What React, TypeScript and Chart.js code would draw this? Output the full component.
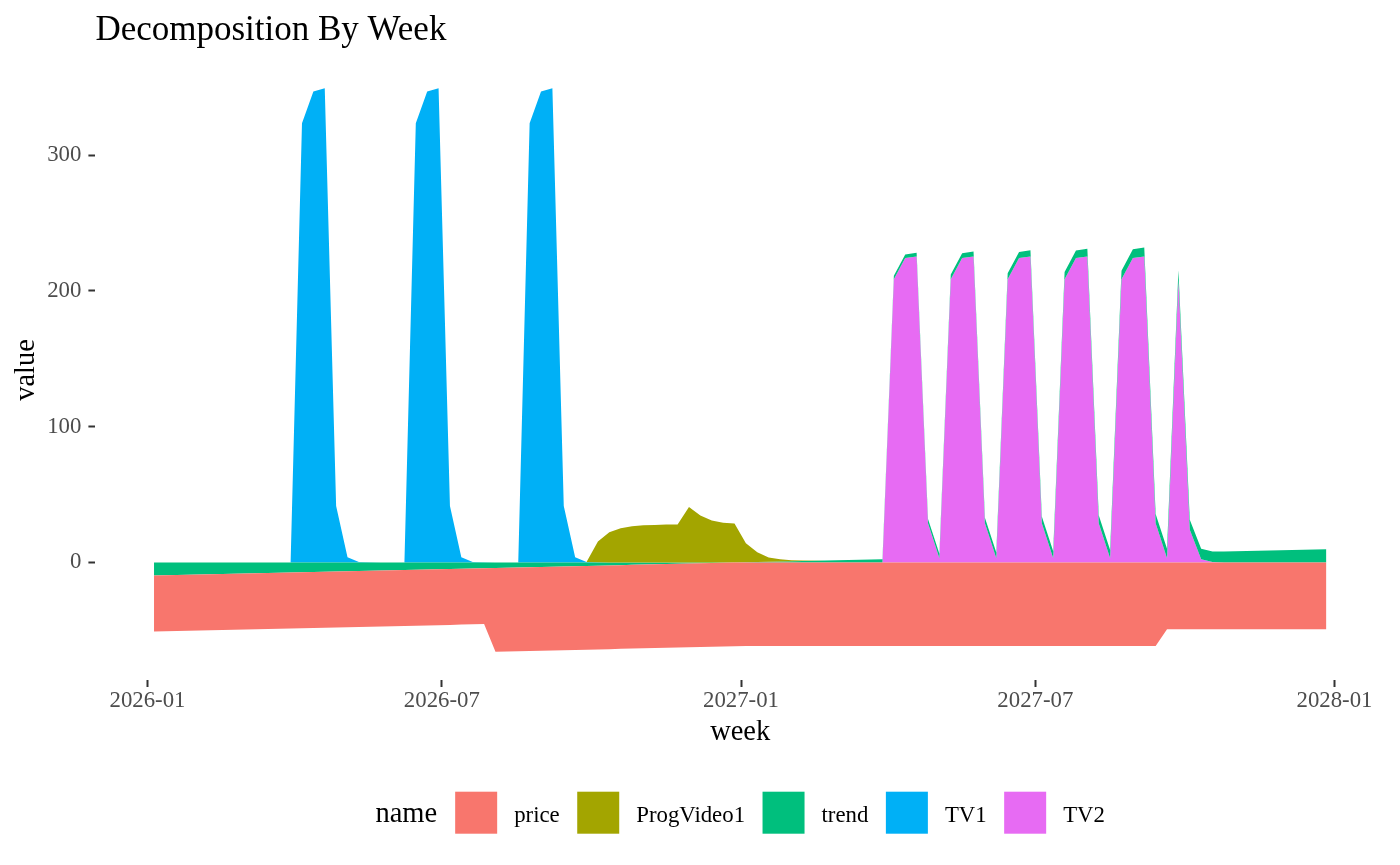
import React, { useEffect, useRef } from "react";
import { Chart, registerables } from "chart.js";

Chart.register(...registerables);

// ---------- data ----------
const weeks = [
  "2026-01-05", "2026-01-12", "2026-01-19", "2026-01-26", "2026-02-02", "2026-02-09", "2026-02-16", "2026-02-23",
  "2026-03-02", "2026-03-09", "2026-03-16", "2026-03-23", "2026-03-30", "2026-04-06", "2026-04-13", "2026-04-20",
  "2026-04-27", "2026-05-04", "2026-05-11", "2026-05-18", "2026-05-25", "2026-06-01", "2026-06-08", "2026-06-15",
  "2026-06-22", "2026-06-29", "2026-07-06", "2026-07-13", "2026-07-20", "2026-07-27", "2026-08-03", "2026-08-10",
  "2026-08-17", "2026-08-24", "2026-08-31", "2026-09-07", "2026-09-14", "2026-09-21", "2026-09-28", "2026-10-05",
  "2026-10-12", "2026-10-19", "2026-10-26", "2026-11-02", "2026-11-09", "2026-11-16", "2026-11-23", "2026-11-30",
  "2026-12-07", "2026-12-14", "2026-12-21", "2026-12-28",
  "2027-01-04", "2027-01-11", "2027-01-18", "2027-01-25", "2027-02-01", "2027-02-08", "2027-02-15", "2027-02-22",
  "2027-03-01", "2027-03-08", "2027-03-15", "2027-03-22", "2027-03-29", "2027-04-05", "2027-04-12", "2027-04-19",
  "2027-04-26", "2027-05-03", "2027-05-10", "2027-05-17", "2027-05-24", "2027-05-31", "2027-06-07", "2027-06-14",
  "2027-06-21", "2027-06-28", "2027-07-05", "2027-07-12", "2027-07-19", "2027-07-26", "2027-08-02", "2027-08-09",
  "2027-08-16", "2027-08-23", "2027-08-30", "2027-09-06", "2027-09-13", "2027-09-20", "2027-09-27", "2027-10-04",
  "2027-10-11", "2027-10-18", "2027-10-25", "2027-11-01", "2027-11-08", "2027-11-15", "2027-11-22", "2027-11-29",
  "2027-12-06", "2027-12-13", "2027-12-20", "2027-12-27",
];

const price = [
  -41.2, -41.2, -41.2, -41.2, -41.2, -41.2, -41.2, -41.2, -41.2, -41.2,
  -41.2, -41.2, -41.2, -41.2, -41.2, -41.2, -41.2, -41.2, -41.2, -41.2,
  -41.2, -41.2, -41.2, -41.2, -41.2, -41.2, -41.2, -41.2, -41.2, -41.2,
  -61.8, -61.8, -61.8, -61.8, -61.8, -61.8, -61.8, -61.8, -61.8, -61.8,
  -61.8, -61.7, -61.7, -61.7, -61.7, -61.7, -61.7, -61.7, -61.7, -61.7,
  -61.6, -61.6, -61.6, -61.6, -61.6, -61.6, -61.6, -61.6, -61.6, -61.6,
  -61.5, -61.5, -61.5, -61.5, -61.5, -61.5, -61.5, -61.5, -61.5, -61.5,
  -61.5, -61.5, -61.5, -61.5, -61.5, -61.5, -61.5, -61.5, -61.5, -61.5,
  -61.5, -61.5, -61.5, -61.5, -61.5, -61.5, -61.5, -61.5, -61.5, -49.2,
  -49.2, -49.2, -49.2, -49.2, -49.2, -49.2, -49.2, -49.2, -49.2, -49.2,
  -49.2, -49.2, -49.2, -49.2,
];

const progVideo1 = [
  0, 0, 0, 0, 0, 0, 0, 0, 0, 0,
  0, 0, 0, 0, 0, 0, 0, 0, 0, 0,
  0, 0, 0, 0, 0, 0, 0, 0, 0, 0,
  0, 0, 0, 0, 0, 0, 0, 0, 0, 15.3,
  22.3, 25.2, 26.7, 27.4, 27.6, 27.9, 27.9, 40.9, 34.5, 30.8,
  29.3, 28.6, 14.1, 7.3, 3.2, 1.7, 0.8, 0.4, 0.2, 0.1,
  0, 0, 0, 0, 0, 0, 0, 0, 0, 0,
  0, 0, 0, 0, 0, 0, 0, 0, 0, 0,
  0, 0, 0, 0, 0, 0, 0, 0, 0, 0,
  0, 0, 0, 0, 0, 0, 0, 0, 0, 0,
  0, 0, 0, 0,
];

const trend = [
  -9.70, -9.51, -9.32, -9.14, -8.95, -8.76, -8.57, -8.38, -8.20, -8.01,
  -7.82, -7.63, -7.44, -7.26, -7.07, -6.88, -6.69, -6.50, -6.32, -6.13,
  -5.94, -5.75, -5.56, -5.38, -5.19, -5.00, -4.81, -4.62, -4.44, -4.25,
  -4.06, -3.87, -3.68, -3.50, -3.31, -3.12, -2.93, -2.74, -2.56, -2.37,
  -2.18, -1.99, -1.80, -1.62, -1.43, -1.24, -1.05, -0.86, -0.68, -0.49,
  -0.30, -0.11, 0.08, 0.26, 0.45, 0.64, 0.83, 1.02, 1.20, 1.39,
  1.58, 1.77, 1.96, 2.14, 2.33, 2.52, 2.71, 2.90, 3.08, 3.27,
  3.46, 3.65, 3.84, 4.02, 4.21, 4.40, 4.59, 4.78, 4.96, 5.15,
  5.34, 5.53, 5.72, 5.90, 6.09, 6.28, 6.47, 6.66, 6.84, 7.03,
  7.22, 7.41, 7.60, 7.78, 7.97, 8.16, 8.35, 8.54, 8.72, 8.91,
  9.10, 9.29, 9.48, 9.66,
];

const tv1 = [
  0, 0, 0, 0, 0, 0, 0, 0, 0, 0,
  0, 0, 0, 323.6, 346.9, 349.4, 41.6, 3.8, 0.4, 0.05,
  0, 0, 0, 323.6, 346.9, 349.4, 41.6, 3.8, 0.4, 0.05,
  0, 0, 0, 323.6, 346.9, 349.4, 41.6, 3.8, 0.4, 0.05,
  0, 0, 0, 0, 0, 0, 0, 0, 0, 0,
  0, 0, 0, 0, 0, 0, 0, 0, 0, 0,
  0, 0, 0, 0, 0, 0, 0, 0, 0, 0,
  0, 0, 0, 0, 0, 0, 0, 0, 0, 0,
  0, 0, 0, 0, 0, 0, 0, 0, 0, 0,
  0, 0, 0, 0, 0, 0, 0, 0, 0, 0,
  0, 0, 0, 0,
];

const tv2 = [
  0, 0, 0, 0, 0, 0, 0, 0, 0, 0,
  0, 0, 0, 0, 0, 0, 0, 0, 0, 0,
  0, 0, 0, 0, 0, 0, 0, 0, 0, 0,
  0, 0, 0, 0, 0, 0, 0, 0, 0, 0,
  0, 0, 0, 0, 0, 0, 0, 0, 0, 0,
  0, 0, 0, 0, 0, 0, 0, 0, 0, 0,
  0, 0, 0, 0, 0, 208.7, 224.2, 225.3, 28.9, 3.1,
  208.7, 224.2, 225.3, 28.9, 3.1, 208.7, 224.2, 225.3, 28.9, 3.1,
  208.7, 224.2, 225.3, 28.9, 3.1, 208.7, 224.2, 225.3, 28.9, 3.1,
  208.0, 24.0, 2.4, 0.3, 0.03, 0, 0, 0, 0, 0,
  0, 0, 0, 0,
];

const seriesNames = ["price", "ProgVideo1", "trend", "TV1", "TV2"];
const seriesValues = [price, progVideo1, trend, tv1, tv2];
const seriesColors = ["#F8766D", "#A3A500", "#00BF7D", "#00B0F6", "#E76BF3"];

const xTickLabels = ["2026-01", "2026-07", "2027-01", "2027-07", "2028-01"];
const yTickValues = [0, 100, 200, 300];

const titleText = "Decomposition By Week";
const xTitle = "week";
const yTitle = "value";
const legendTitle = "name";

// ---------- styling constants ----------
const FONT = '"Liberation Serif", "Times New Roman", serif';
const W = 1400;
const H = 865;

// ---------- stacking (ggplot-style: positive and negative stacked separately,
// later factor levels closest to zero) ----------
function buildStacks() {
  const n = weeks.length;
  const lower = seriesValues.map(() => new Array(n).fill(0));
  const upper = seriesValues.map(() => new Array(n).fill(0));
  const order = [4, 3, 2, 1, 0];
  for (let i = 0; i < n; i++) {
    let pos = 0;
    let neg = 0;
    for (const s of order) {
      const v = seriesValues[s][i];
      if (v >= 0) {
        lower[s][i] = pos;
        pos += v;
        upper[s][i] = pos;
      } else {
        upper[s][i] = neg;
        neg += v;
        lower[s][i] = neg;
      }
    }
  }
  return { lower, upper };
}

const decorPlugin = {
  id: "ggDecor",
  afterDraw(chart: any) {
    const { ctx, chartArea } = chart;
    const cx = (chartArea.left + chartArea.right) / 2;
    const cy = (chartArea.top + chartArea.bottom) / 2;
    ctx.save();
    ctx.fillStyle = "#000000";
    ctx.textBaseline = "alphabetic";

    // title
    ctx.font = `35px ${FONT}`;
    ctx.textAlign = "left";
    ctx.fillText(titleText, chartArea.left, 39.5);

    // axis titles
    ctx.font = `28.5px ${FONT}`;
    ctx.textAlign = "center";
    ctx.fillText(xTitle, cx, 740);
    ctx.save();
    ctx.translate(34, cy);
    ctx.rotate(-Math.PI / 2);
    ctx.fillText(yTitle, 0, 0);
    ctx.restore();

    // legend
    const keySize = 42;
    const titleGap = 18;
    const keyGap = 17;
    const itemGap = 17.5;
    ctx.font = `28.5px ${FONT}`;
    const nameW = ctx.measureText(legendTitle).width;
    ctx.font = `22.8px ${FONT}`;
    const labelW = seriesNames.map((s) => ctx.measureText(s).width);
    const total =
      nameW + titleGap + seriesNames.length * (keySize + keyGap) +
      labelW.reduce((a, b) => a + b, 0) + itemGap * (seriesNames.length - 1);
    let x = cx - total / 2;
    const keyTop = 791.7;
    const baseline = 821.5;
    ctx.textAlign = "left";
    ctx.font = `28.5px ${FONT}`;
    ctx.fillText(legendTitle, x, baseline);
    x += nameW + titleGap;
    ctx.font = `22.8px ${FONT}`;
    seriesNames.forEach((s, i) => {
      ctx.fillStyle = seriesColors[i];
      ctx.fillRect(x, keyTop, keySize, keySize);
      x += keySize + keyGap;
      ctx.fillStyle = "#000000";
      ctx.fillText(s, x, baseline);
      x += labelW[i] + itemGap;
    });
    ctx.restore();
  },
};

export default function App() {
  const canvasRef = useRef<HTMLCanvasElement>(null);

  useEffect(() => {
    const canvas = canvasRef.current;
    if (!canvas) return;
    const { lower, upper } = buildStacks();
    const xs = weeks.map((w) => Date.parse(w));
    const n = xs.length;
    const xRange = xs[n - 1] - xs[0];
    const allLow = Math.min(...lower.flat());
    const allHigh = Math.max(...upper.flat());
    const yPad = 0.05 * (allHigh - allLow);

    const datasets: any[] = [];
    seriesNames.forEach((name, s) => {
      datasets.push({
        label: name + "_base",
        data: xs.map((x, i) => ({ x, y: lower[s][i] })),
        borderColor: "rgba(0,0,0,0)",
        backgroundColor: "rgba(0,0,0,0)",
        borderWidth: 0,
        pointRadius: 0,
        fill: false,
        tension: 0,
      });
      datasets.push({
        label: name,
        data: xs.map((x, i) => ({ x, y: upper[s][i] })),
        borderColor: "rgba(0,0,0,0)",
        backgroundColor: seriesColors[s],
        borderWidth: 0,
        pointRadius: 0,
        fill: "-1",
        tension: 0,
      });
    });

    const tickFont = { family: FONT, size: 22.8 };

    const chart = new Chart(canvas, {
      type: "line",
      data: { datasets },
      plugins: [decorPlugin],
      options: {
        animation: false,
        responsive: false,
        maintainAspectRatio: false,
        events: [],
        layout: { padding: { top: 60, right: 15, bottom: 0, left: 0 } },
        plugins: {
          legend: { display: false },
          tooltip: { enabled: false },
          title: { display: false },
        },
        scales: {
          x: {
            type: "linear",
            min: xs[0] - 0.05 * xRange,
            max: xs[n - 1] + 0.05 * xRange,
            afterBuildTicks: (scale: any) => {
              scale.ticks = xTickLabels.map((l) => ({ value: Date.parse(l + "-01") }));
            },
            afterFit: (scale: any) => {
              scale.height = H - 680;
            },
            ticks: {
              autoSkip: false,
              maxRotation: 0,
              minRotation: 0,
              padding: 0,
              color: "#4D4D4D",
              font: tickFont,
              callback: (_v: any, i: number) => xTickLabels[i],
            },
            grid: {
              display: true,
              drawOnChartArea: false,
              drawTicks: true,
              tickLength: 7,
              tickWidth: 2,
              tickColor: "#333333",
            },
            border: { display: false },
          },
          y: {
            type: "linear",
            min: allLow - yPad,
            max: allHigh + yPad,
            afterBuildTicks: (scale: any) => {
              scale.ticks = yTickValues.map((v) => ({ value: v }));
            },
            afterFit: (scale: any) => {
              scale.width = 95.4;
            },
            ticks: {
              padding: 7,
              color: "#4D4D4D",
              font: tickFont,
              callback: (v: any) => String(v),
            },
            grid: {
              display: true,
              drawOnChartArea: false,
              drawTicks: true,
              tickLength: 7,
              tickWidth: 2,
              tickColor: "#333333",
            },
            border: { display: false },
          },
        },
      } as any,
    });

    return () => chart.destroy();
  }, []);

  return (
    <div style={{ position: "absolute", left: 0, top: 0, width: W, height: H, background: "#ffffff" }}>
      <canvas ref={canvasRef} width={W} height={H} style={{ display: "block", width: W, height: H }} />
    </div>
  );
}
